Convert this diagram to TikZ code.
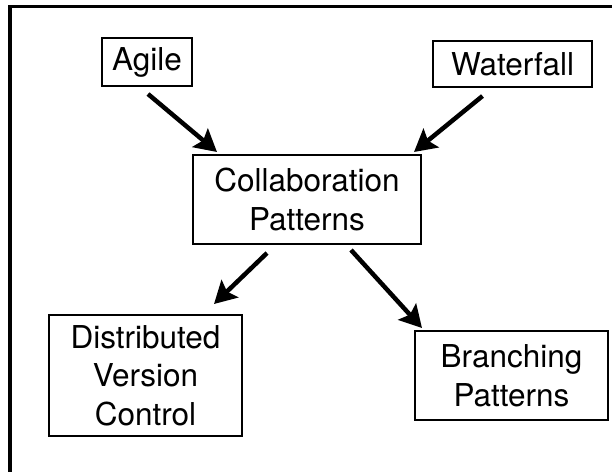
\documentclass[tikz,border=0pt]{standalone}
\usepackage{fontspec}
\setmainfont{TeX Gyre Heros}
\usetikzlibrary{arrows.meta}
\begin{document}
\begin{tikzpicture}[x=1pt,y=-1pt,
  box/.style={draw, line width=2pt, inner sep=0pt, align=center,
    font=\fontsize{31.5}{38.5}\selectfont},
  arr/.style={line width=4.5pt, -{Stealth[length=22pt,width=24pt,inset=4pt]}}]
  \useasboundingbox (0,0) rectangle (612,471);
  % outer frame, running off the right and bottom edges
  \begin{scope}
    \clip (0,0) rectangle (612,471);
    \draw[line width=3.5pt] (10,6.5) rectangle (660,520);
  \end{scope}
  % boxes
  \node[box, minimum width=90pt,  minimum height=48pt]  (agile)  at (147,62)    {Agile};
  \node[box, minimum width=159pt, minimum height=46pt]  (water)  at (512.5,64)  {Waterfall};
  \node[box, minimum width=228pt, minimum height=89pt]  (collab) at (307,199.5) {Collaboration\\Patterns};
  \node[box, minimum width=193pt, minimum height=121pt] (dvc)    at (145.5,375.5) {Distributed\\Version\\Control};
  \node[box, minimum width=193pt, minimum height=89pt]  (branch) at (511.5,375.5) {Branching\\Patterns};
  % connectors
  \draw[arr] ([xshift=1pt,yshift=-7pt]agile.south) -- ([xshift=25pt,yshift=2pt]collab.north west);
  \draw[arr] ([xshift=-30pt,yshift=-8pt]water.south) -- ([xshift=-8pt,yshift=2pt]collab.north east);
  \draw[arr] ([xshift=75pt,yshift=-8pt]collab.south west) -- ([xshift=-29pt,yshift=10pt]dvc.north east);
  \draw[arr] ([xshift=44pt,yshift=-5pt]collab.south) -- ([xshift=8pt,yshift=2pt]branch.north west);
\end{tikzpicture}
\end{document}
